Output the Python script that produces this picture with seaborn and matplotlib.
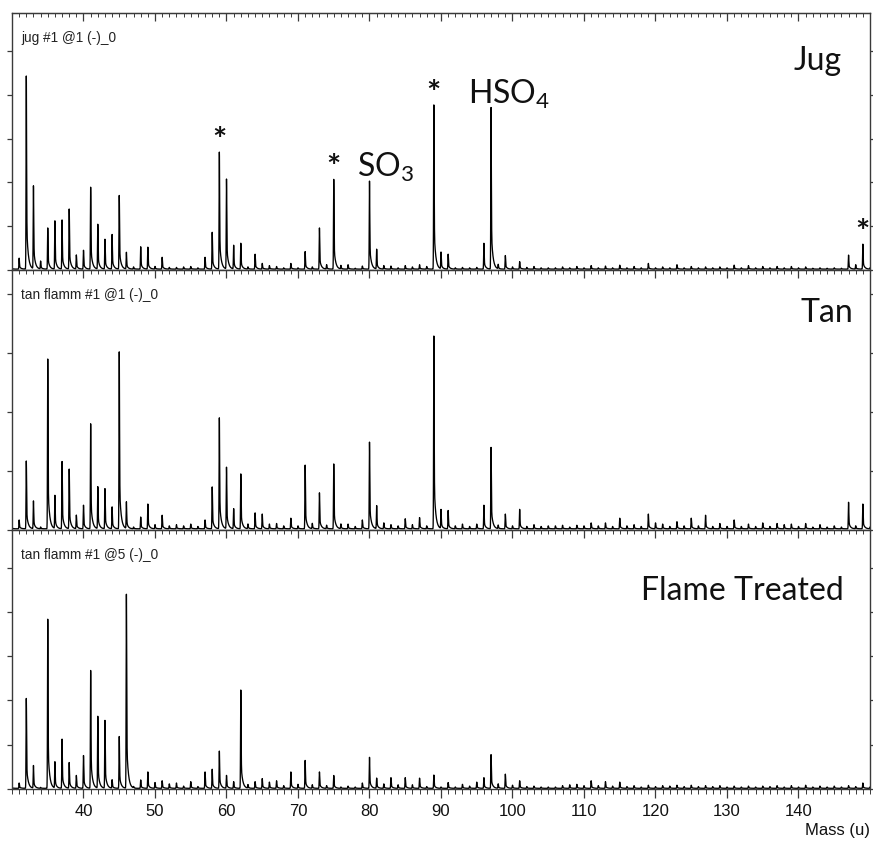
import numpy as np
import pandas as pd
import matplotlib
matplotlib.use("Agg")
import matplotlib.pyplot as plt
import seaborn as sns
from matplotlib.ticker import MultipleLocator

# ---------------- data (peak heights, arbitrary units) ----------------
masses = list(range(30, 151))

jug = [0.03, 0.25, 4.41, 1.89, 0.18, 0.94, 1.10, 1.12, 1.37, 0.32,   # 30-39
       0.43, 1.87, 1.02, 0.68, 0.79, 1.68, 0.38, 0.05, 0.51, 0.50,   # 40-49
       0.06, 0.27, 0.04, 0.04, 0.05, 0.06, 0.03, 0.27, 0.84, 2.67,   # 50-59
       2.05, 0.54, 0.59, 0.05, 0.34, 0.13, 0.08, 0.06, 0.03, 0.13,   # 60-69
       0.03, 0.40, 0.05, 0.94, 0.10, 2.05, 0.08, 0.10, 0.02, 0.07,   # 70-79
       2.01, 0.45, 0.08, 0.07, 0.03, 0.08, 0.05, 0.10, 0.06, 3.75,   # 80-89
       0.38, 0.34, 0.03, 0.04, 0.03, 0.04, 0.59, 3.69, 0.10, 0.31,   # 90-99
       0.05, 0.17, 0.04, 0.06, 0.03, 0.03, 0.03, 0.05, 0.03, 0.06,   # 100-109
       0.03, 0.08, 0.03, 0.07, 0.03, 0.09, 0.03, 0.06, 0.03, 0.13,   # 110-119
       0.03, 0.05, 0.03, 0.10, 0.03, 0.06, 0.03, 0.05, 0.03, 0.05,   # 120-129
       0.03, 0.09, 0.03, 0.08, 0.03, 0.06, 0.03, 0.06, 0.03, 0.06,   # 130-139
       0.03, 0.05, 0.02, 0.03, 0.02, 0.03, 0.02, 0.32, 0.10, 0.57,   # 140-149
       0.03]                                                          # 150

tan = [0.03, 0.15, 1.15, 0.47, 0.03, 2.88, 0.56, 1.14, 1.01, 0.23,
       0.40, 1.78, 0.71, 0.68, 0.37, 3.00, 0.45, 0.03, 0.20, 0.42,
       0.07, 0.23, 0.05, 0.07, 0.05, 0.08, 0.04, 0.15, 0.71, 1.88,
       1.04, 0.34, 0.93, 0.08, 0.27, 0.25, 0.08, 0.09, 0.05, 0.18,
       0.05, 1.08, 0.09, 0.61, 0.06, 1.10, 0.08, 0.08, 0.04, 0.15,
       1.47, 0.39, 0.10, 0.07, 0.05, 0.17, 0.07, 0.19, 0.05, 3.27,
       0.32, 0.31, 0.05, 0.08, 0.04, 0.08, 0.40, 1.38, 0.06, 0.25,
       0.05, 0.33, 0.04, 0.07, 0.04, 0.05, 0.05, 0.06, 0.03, 0.06,
       0.05, 0.10, 0.05, 0.10, 0.04, 0.18, 0.05, 0.07, 0.04, 0.25,
       0.10, 0.08, 0.04, 0.12, 0.05, 0.18, 0.05, 0.23, 0.04, 0.09,
       0.04, 0.15, 0.04, 0.08, 0.04, 0.10, 0.04, 0.09, 0.07, 0.08,
       0.04, 0.09, 0.03, 0.07, 0.03, 0.05, 0.03, 0.45, 0.05, 0.42,
       0.03]

flame = [0.03, 0.12, 2.03, 0.51, 0.02, 3.82, 0.59, 1.11, 0.58, 0.29,
         0.74, 2.66, 1.62, 1.53, 0.19, 1.17, 4.38, 0.03, 0.19, 0.37,
         0.13, 0.17, 0.10, 0.12, 0.05, 0.15, 0.04, 0.37, 0.43, 0.84,
         0.29, 0.15, 2.22, 0.08, 0.15, 0.22, 0.14, 0.17, 0.06, 0.37,
         0.09, 0.63, 0.08, 0.37, 0.06, 0.29, 0.03, 0.05, 0.03, 0.12,
         0.70, 0.23, 0.10, 0.24, 0.08, 0.24, 0.08, 0.23, 0.04, 0.30,
         0.03, 0.13, 0.03, 0.09, 0.05, 0.14, 0.24, 0.76, 0.10, 0.32,
         0.07, 0.17, 0.04, 0.05, 0.03, 0.03, 0.03, 0.06, 0.08, 0.09,
         0.06, 0.17, 0.06, 0.15, 0.05, 0.14, 0.04, 0.06, 0.03, 0.07,
         0.04, 0.06, 0.05, 0.07, 0.04, 0.07, 0.04, 0.06, 0.04, 0.06,
         0.03, 0.05, 0.03, 0.05, 0.03, 0.05, 0.04, 0.06, 0.03, 0.06,
         0.03, 0.07, 0.03, 0.05, 0.03, 0.05, 0.03, 0.06, 0.04, 0.12,
         0.03]

baseline = [0.02, 0.02, 0.015]
panel_ids = ["jug #1 @1 (-)_0", "tan flamm #1 @1 (-)_0", "tan flamm #1 @5 (-)_0"]
panel_names = ["Jug", "Tan", "Flame Treated"]
x_ticks = [40, 50, 60, 70, 80, 90, 100, 110, 120, 130, 140]
x_label = "Mass (u)"
star_masses = [59, 75, 89, 149]
ion_masses = [80, 97]
ion_labels = [r"SO$_\mathrm{3}$", r"HSO$_\mathrm{4}$"]

# ---------------- build continuous spectra from the peak list ----------------
grid = np.arange(30.0, 150.0001, 0.01)


def profile(heights, base):
    y = np.full_like(grid, base)
    for m, h in zip(masses, heights):
        dx = grid - m
        sel = np.abs(dx) < 1.2
        d = dx[sel]
        left = np.exp(-0.5 * (d / 0.035) ** 2)
        right = 0.72 * np.exp(-0.5 * (d / 0.04) ** 2) + 0.28 * np.exp(-np.clip(d, 0, None) / 0.22)
        y[sel] += h * np.where(d < 0, left, right)
    return y


frames = []
for name, heights, base in zip(panel_names, [jug, tan, flame], baseline):
    frames.append(pd.DataFrame({"mass": grid, "intensity": profile(heights, base), "panel": name}))
spectra = pd.concat(frames, ignore_index=True)

# ---------------- figure ----------------
sns.set_style("ticks")
plt.rcParams["font.family"] = ["Liberation Sans", "DejaVu Sans"]
plt.rcParams["mathtext.fontset"] = "custom"
plt.rcParams["mathtext.rm"] = "Lato"
plt.rcParams["mathtext.it"] = "Lato:italic"
plt.rcParams["mathtext.bf"] = "Lato:bold"

W, H = 873, 841
fig = plt.figure(figsize=(W / 100, H / 100), dpi=100)

left_px, right_px = 12, 870
panels_px = [(13, 270), (270, 530), (530, 789)]
ylims = [5.87, 4.41, 5.85]
name_pos = [(0.967, 57), (0.980, 52), (0.969, 70)]
spine_col = "#3a3a3a"

axes = []
for i, ((top, bot), name) in enumerate(zip(panels_px, panel_names)):
    ax = fig.add_axes([left_px / W, 1 - bot / H, (right_px - left_px) / W, (bot - top) / H])
    axes.append(ax)
    sub = spectra[spectra["panel"] == name]
    sns.lineplot(data=sub, x="mass", y="intensity", ax=ax, color="black",
                 linewidth=0.95, estimator=None, sort=False)
    ax.set_xlim(30, 150)
    ax.set_ylim(0, ylims[i])
    ax.set_xlabel("")
    ax.set_ylabel("")
    for s in ax.spines.values():
        s.set_visible(True)
        s.set_color(spine_col)
        s.set_linewidth(1.0)
    ax.xaxis.set_major_locator(plt.FixedLocator(x_ticks))
    ax.xaxis.set_minor_locator(MultipleLocator(1))
    ax.yaxis.set_major_locator(MultipleLocator(1))
    ax.tick_params(axis="x", which="major", direction="out", length=6.5, width=0.9,
                   color=spine_col, top=False, bottom=True, labelbottom=(i == 2), labelsize=12,
                   pad=4.5, labelcolor="#111111")
    ax.tick_params(axis="x", which="minor", direction="out", length=3.6, width=0.7,
                   color=spine_col, top=False, bottom=True)
    ax.tick_params(axis="y", which="major", direction="out", length=3.5, width=0.9,
                   color=spine_col, left=True, right=True, labelleft=False, labelright=False)
    # inward ticks along the top edge
    sec = ax.secondary_xaxis("top")
    sec.xaxis.set_major_locator(plt.FixedLocator(x_ticks))
    sec.xaxis.set_minor_locator(MultipleLocator(1))
    sec.tick_params(axis="x", which="major", direction="in", length=6, width=0.9,
                    color=spine_col, labeltop=False)
    sec.tick_params(axis="x", which="minor", direction="in", length=3.2, width=0.7,
                    color=spine_col)
    sec.spines["top"].set_color(spine_col)

    ph = bot - top
    ax.text(9 / (right_px - left_px), 1 - 25 / ph, panel_ids[i], transform=ax.transAxes,
            ha="left", va="center", fontsize=9.8, color="#222222")
    nx, nb = name_pos[i]
    ax.text(nx, 1 - nb / ph, name, transform=ax.transAxes, ha="right", va="baseline",
            fontsize=23, family="Lato", color="#111111")

# annotations on the Jug panel
ax0 = axes[0]
for m in star_masses:
    h = jug[masses.index(m)]
    ax0.text(m, h + 0.05, "*", ha="center", va="baseline", fontsize=24,
             family="Lato", fontweight="bold", color="#111111")
for m, lab, dxo in zip(ion_masses, ion_labels, [-1.8, -3.2]):
    h = jug[masses.index(m)]
    ax0.text(m + dxo, h + 0.11, lab, ha="left", va="baseline", fontsize=23,
             family="Lato", color="#111111")

axes[2].set_xlabel(x_label, fontsize=12, loc="right", labelpad=2.5, color="#111111")

fig.savefig("out.png", dpi=100)
